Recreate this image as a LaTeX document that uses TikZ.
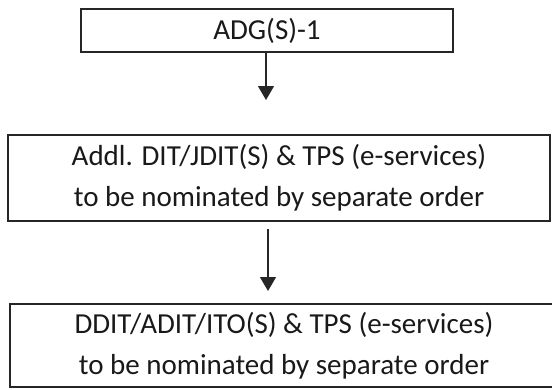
\documentclass[tikz,border=0pt]{standalone}
\usepackage{fontspec}
\setmainfont{Carlito}
\usetikzlibrary{arrows.meta}
\begin{document}
\begin{tikzpicture}[x=1pt,y=-1pt,
  box/.style={draw=black!85, line width=1.3pt, inner sep=0pt, align=center,
    font=\fontsize{29}{41}\selectfont, text=black!90},
  flow/.style={draw=black!85, line width=1.4pt, -{Triangle[length=14pt,width=16pt]}}]
\useasboundingbox (0,0) rectangle (552,389);
\node[box, minimum width=372pt, minimum height=43pt] (b1) at (267,30.5) {ADG(S)-1};
\node[box, minimum width=542pt, minimum height=86pt] (b2) at (279,178)
  {Addl. DIT/JDIT(S) \& TPS (e-services)\\to be nominated by separate order};
\node[box, minimum width=548pt, minimum height=83pt] (b3) at (284,345.5)
  {DDIT/ADIT/ITO(S) \& TPS (e-services)\\to be nominated by separate order};
\coordinate (a1) at (266,100);
\coordinate (a2s) at (268,229);
\coordinate (a2e) at (268,291);
\draw[flow] (b1.south -| a1) -- (a1);
\draw[flow] (a2s) -- (a2e);
\end{tikzpicture}
\end{document}
